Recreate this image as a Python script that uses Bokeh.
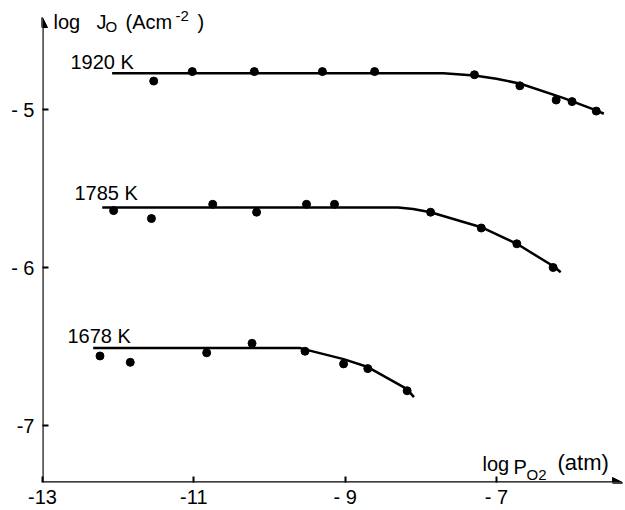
from bokeh.plotting import figure
from bokeh.models import Range1d, FixedTicker, Arrow, NormalHead, Label
from bokeh.embed import file_html
from bokeh.resources import INLINE

# ---- data ----
temps = ["1920 K", "1785 K", "1678 K"]

x_1920 = [-11.53, -11.02, -10.20, -9.30, -8.61, -7.29, -6.69, -6.21, -6.00, -5.68]
y_1920 = [-4.82, -4.76, -4.76, -4.76, -4.76, -4.78, -4.85, -4.94, -4.95, -5.01]
fit_x_1920 = [-12.08, -7.70, -7.29, -7.00, -6.68, -6.11, -5.68, -5.58]
fit_y_1920 = [-4.77, -4.77, -4.785, -4.805, -4.837, -4.928, -5.006, -5.027]

x_1785 = [-12.06, -11.56, -10.75, -10.17, -9.51, -9.14, -7.87, -7.20, -6.73, -6.25]
y_1785 = [-5.64, -5.69, -5.60, -5.65, -5.60, -5.60, -5.65, -5.75, -5.85, -6.00]
fit_x_1785 = [-12.21, -8.30, -8.10, -7.87, -7.20, -6.73, -6.24, -6.15]
fit_y_1785 = [-5.62, -5.62, -5.63, -5.65, -5.745, -5.85, -5.994, -6.03]

x_1678 = [-12.24, -11.84, -10.83, -10.23, -9.53, -9.02, -8.70, -8.18]
y_1678 = [-6.56, -6.60, -6.54, -6.48, -6.53, -6.61, -6.64, -6.78]
fit_x_1678 = [-12.33, -9.60, -9.52, -9.02, -8.70, -8.18, -8.09]
fit_y_1678 = [-6.51, -6.51, -6.52, -6.58, -6.63, -6.77, -6.82]

x_ticks = [-13, -11, -9, -7]
x_tick_labels = ["-13", "-11", "- 9", "- 7"]
y_ticks = [-5, -6, -7]
y_tick_labels = ["- 5", "- 6", "-7"]

# ---- layout ----
W, H = 625, 510
MB_L, MB_B = 42, 28
PX_PER_X = 75.65
PX_PER_Y = 158.0
X0 = -13.0
X1 = X0 + (W - MB_L) / PX_PER_X
frame_bottom = H - MB_B
Y1 = -5 + 109 / PX_PER_Y
Y0 = -5 - (frame_bottom - 109) / PX_PER_Y
TEXT_SHIFT = 7  # compensates the label box offset of the renderer


def px_x(px):
    return X0 + (px - MB_L) / PX_PER_X


def px_y(py):
    return -5 + (109 - py) / PX_PER_Y


FONT = "Liberation Sans"

p = figure(width=W, height=H, output_backend="svg", toolbar_location=None,
           x_range=Range1d(X0, X1), y_range=Range1d(Y0, Y1),
           min_border_left=MB_L, min_border_right=0, min_border_top=0,
           min_border_bottom=MB_B)
p.grid.visible = False
p.outline_line_color = None
p.background_fill_color = "white"

for ax, ticks, labels in ((p.xaxis, x_ticks, x_tick_labels),
                          (p.yaxis, y_ticks, y_tick_labels)):
    ax.ticker = FixedTicker(ticks=ticks)
    ax.major_label_overrides = {t: l for t, l in zip(ticks, labels)}
    ax.axis_line_color = None
    ax.major_tick_in = 6
    ax.major_tick_out = 0
    ax.major_tick_line_width = 2
    ax.major_tick_line_color = "black"
    ax.minor_tick_line_color = None
    ax.major_label_text_font = FONT
    ax.major_label_text_font_size = "20px"
    ax.major_label_text_color = "black"
p.xaxis.major_label_standoff = 3
p.yaxis.major_label_standoff = 8

# axes with arrows
p.add_layout(Arrow(end=NormalHead(size=10, fill_color="black", line_color="black"),
                   x_start=X0, y_start=Y0, x_end=X0, y_end=px_y(17),
                   line_width=2.3, line_color="black"))
p.add_layout(Arrow(end=NormalHead(size=10, fill_color="black", line_color="black"),
                   x_start=X0, y_start=Y0, x_end=px_x(622), y_end=Y0,
                   line_width=2.3, line_color="black"))

series = [(x_1920, y_1920, fit_x_1920, fit_y_1920),
          (x_1785, y_1785, fit_x_1785, fit_y_1785),
          (x_1678, y_1678, fit_x_1678, fit_y_1678)]
for xs, ys, fx, fy in series:
    p.line(fx, fy, line_width=2.5, line_color="black")
    p.scatter(xs, ys, size=8, fill_color="black", line_color="black")


def lab(px, py, text, size="20px"):
    p.add_layout(Label(x=px_x(px), y=px_y(py - TEXT_SHIFT), text=text,
                       text_font=FONT, text_font_size=size,
                       text_baseline="alphabetic", text_align="left",
                       text_color="black"))


# temperature labels
for name, (lx, ly) in zip(temps, ((70, 68), (74, 199), (67, 342))):
    lab(lx, ly, name)

# y axis title: log J_O (Acm^-2)
lab(53, 28, "log")
lab(96, 28, "J")
lab(105, 33, "O", "15px")
lab(125, 28, "(Acm")
lab(175, 22, "-2", "15px")
lab(197, 28, ")")

# x axis title: log P_O2 (atm)
lab(482, 470, "log")
lab(513, 473, "P")
lab(526, 481, "O2", "15px")
lab(557, 469, "(atm)", "22px")

open("out.html", "w").write(file_html(p, INLINE))
